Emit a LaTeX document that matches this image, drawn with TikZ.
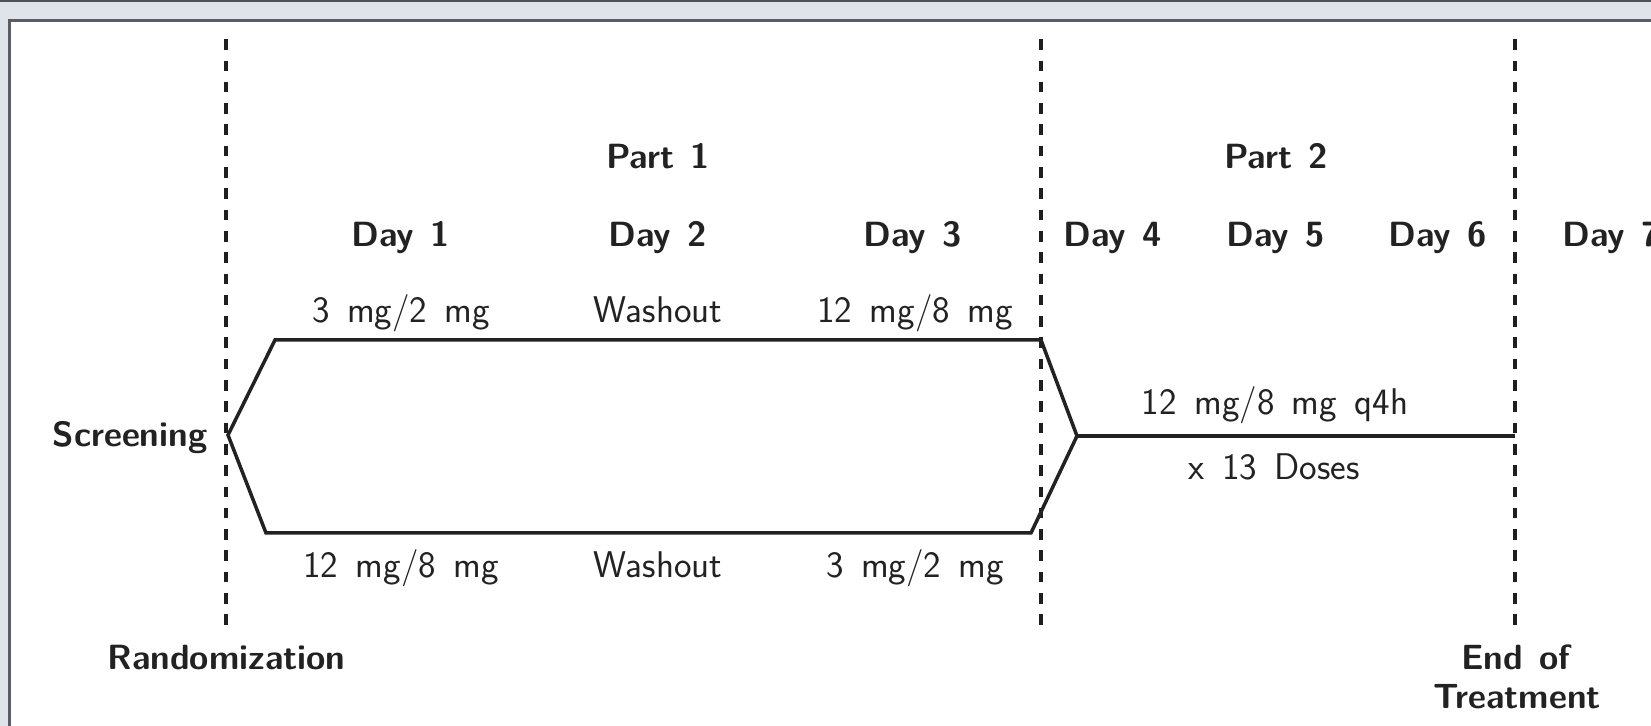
\documentclass[tikz,border=0pt]{standalone}
\usepackage{fontspec}
\newcommand\wsp{\spaceskip=0.47em plus 0.1em\relax}
\definecolor{bgc}{HTML}{DFE3EA}
\definecolor{topc}{HTML}{50525A}
\definecolor{framec}{HTML}{5C5D64}
\definecolor{ink}{HTML}{222222}
\tikzset{
  lbl/.style={anchor=base, inner sep=0pt, text=ink, font=\sffamily\fontsize{18.6}{22}\selectfont\wsp},
  blbl/.style={anchor=base, inner sep=0pt, text=ink, font=\sffamily\bfseries\fontsize{17.5}{21}\selectfont\wsp},
  divider/.style={draw=ink!90!black, line width=2pt, dash pattern=on 5.3pt off 5.35pt},
  arm/.style={draw=ink, line width=1.75pt, line join=miter},
}
\begin{document}
\begin{tikzpicture}[x=0.5pt,y=-0.5pt]
\useasboundingbox (0,0) rectangle (1651,726);
\clip (0,0) rectangle (1651,726);
\fill[bgc] (0,0) rectangle (1651,726);
\fill[topc] (0,0) rectangle (1651,2);
\fill[white] (9.5,21) rectangle (1660,740);
\draw[framec, line width=1.5pt] (9.5,740) -- (9.5,21) -- (1660,21);

% dividers
\coordinate (d1t) at (226,39.3); \coordinate (d1b) at (226,626);
\coordinate (d2t) at (1041,39.3); \coordinate (d2b) at (1041,626);
\coordinate (d3t) at (1515,39.3); \coordinate (d3b) at (1515,626);
\draw[divider] (d1t) -- (d1b);
\draw[divider] (d2t) -- (d2b);
\draw[divider] (d3t) -- (d3b);

% arms
\coordinate (L) at (228,435);
\coordinate (TL) at (275,340);
\coordinate (TR) at (1041,340);
\coordinate (R) at (1077,436);
\coordinate (BR) at (1031,533);
\coordinate (BL) at (266,533);
\coordinate (E) at (1515,436);
\draw[arm] (L) -- (TL) -- (TR) -- (R) -- (BR) -- (BL) -- cycle;
\draw[arm] (R) -- (E);

% headers
\node[blbl] (part1) at (658,169) {Part 1};
\node[blbl] (part2) at (1276,169) {Part 2};
\node[blbl] (day1) at (401,247) {Day 1};
\node[blbl] (day2) at (658,247) {Day 2};
\node[blbl] (day3) at (913,247) {Day 3};
\node[blbl] (day4) at (1113,247) {Day 4};
\node[blbl] (day5) at (1276,247) {Day 5};
\node[blbl] (day6) at (1438,247) {Day 6};
\node[blbl, anchor=base west] (day7) at (1562,247) {Day 7};

% doses
\node[lbl] (t1) at (401,323) {3 mg/2 mg};
\node[lbl] (t2) at (658,323) {Washout};
\node[lbl] (t3) at (915,323) {12 mg/8 mg};
\node[lbl] (b1) at (401,578) {12 mg/8 mg};
\node[lbl] (b2) at (658,578) {Washout};
\node[lbl] (b3) at (915,578) {3 mg/2 mg};
\node[lbl] (p2a) at (1275,415) {12 mg/8 mg q4h};
\node[lbl] (p2b) at (1274,480) {x 13 Doses};

% milestones
\node[blbl] (scr) at (130,447) {Screening};
\node[blbl] (rand) at (226.5,670) {Randomization};
\node[blbl] (eot1) at (1516,670) {End of};
\node[blbl] (eot2) at (1517,709) {Treatment};
\end{tikzpicture}
\end{document}
